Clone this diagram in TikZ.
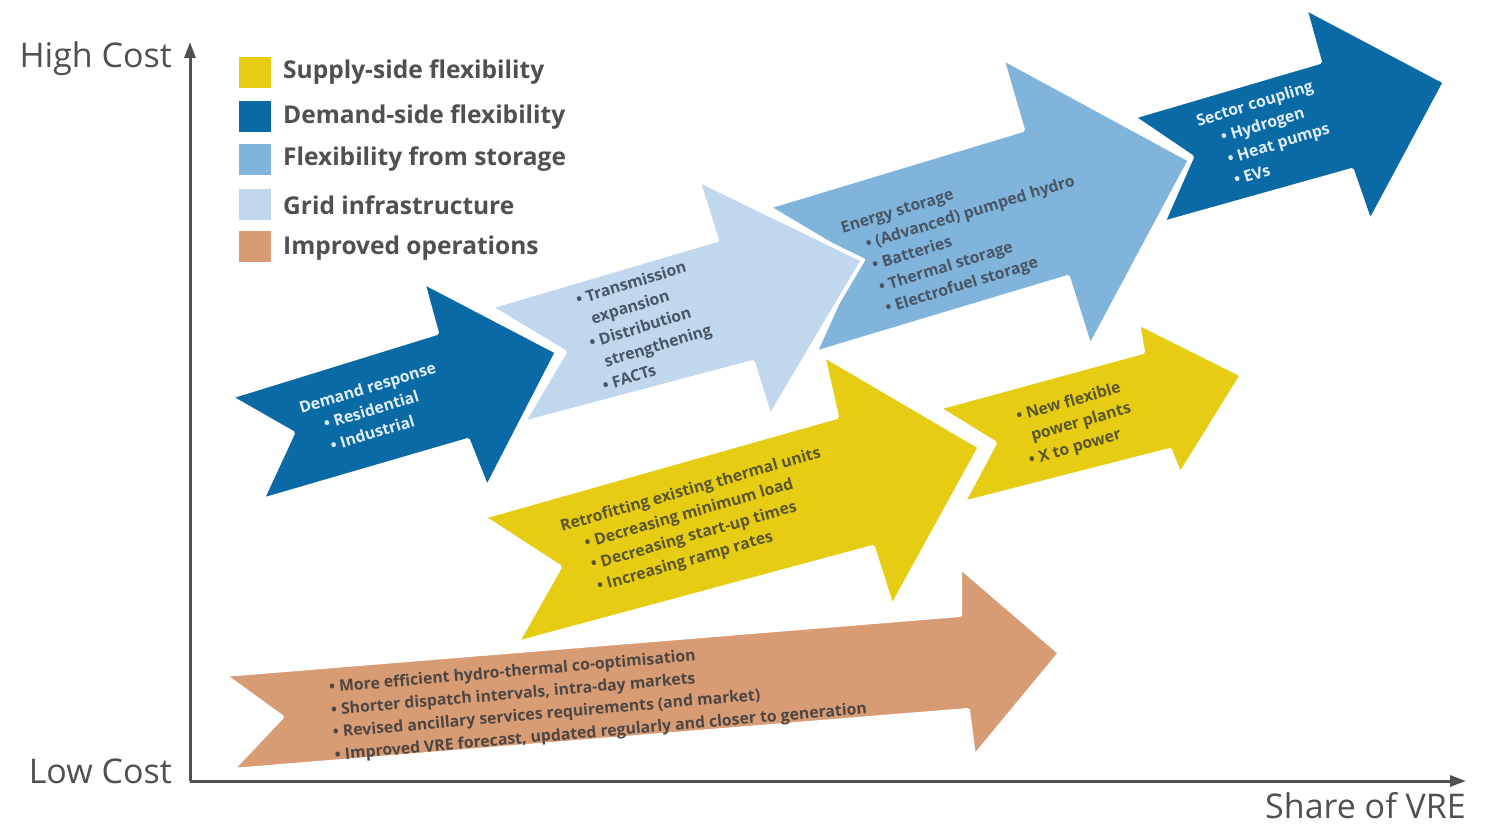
\documentclass[tikz,border=0pt]{standalone}
\usepackage{fontspec}
\setmainfont{Open Sans}
\usetikzlibrary{arrows.meta}
\definecolor{yel}{RGB}{230,205,20}
\definecolor{dblue}{RGB}{10,106,166}
\definecolor{mblue}{RGB}{128,180,218}
\definecolor{lblue}{RGB}{192,215,237}
\definecolor{orng}{RGB}{216,156,116}
\definecolor{greytxt}{RGB}{80,80,80}
\definecolor{bluetxt}{RGB}{72,86,102}
\definecolor{yeltxt}{RGB}{92,86,48}
\definecolor{lighttxt}{RGB}{225,238,250}
\definecolor{orngtxt}{RGB}{78,70,66}
\newcommand{\ind}{\hspace*{1.2em}}
\newcommand{\hang}{\hspace*{0.55em}}
\begin{document}
\begin{tikzpicture}[x=1pt,y=-1pt,
  flow/.style={draw=white, line width=4pt, line join=round},
  intext/.style={align=left, inner sep=0pt, font=\fontsize{15.8}{22.5}\selectfont\bfseries},
  legsq/.style={minimum width=32pt, minimum height=31pt, inner sep=0pt, anchor=north west},
  legtxt/.style={anchor=west, inner sep=0pt, text=greytxt, font=\fontsize{24.5}{28}\selectfont\bfseries},
  axlab/.style={anchor=east, inner sep=0pt, text=greytxt, font=\fontsize{34}{38}\selectfont},
  axis/.style={line width=3pt, draw=greytxt, -{Triangle[length=16pt,width=11pt]}}]
\useasboundingbox (0,0) rectangle (1489,826);
\fill[white] (0,0) rectangle (1489,826);

% axes
\coordinate (O) at (190,781);
\coordinate (ytop) at (190,42);
\coordinate (xend) at (1466,781);
\draw[axis] (O) -- (ytop);
\draw[axis] (O) -- (xend);
\node[axlab] (hc) at (172,59) {High Cost};
\node[axlab] (lc) at (172,771) {Low Cost};
\node[axlab] (sv) at (1466,806) {Share of VRE};

% legend
\node[legsq, fill=yel] (l1) at (239,57) {};
\node[legsq, fill=dblue] (l2) at (239,101) {};
\node[legsq, fill=mblue] (l3) at (239,144) {};
\node[legsq, fill=lblue] (l4) at (239,189) {};
\node[legsq, fill=orng] (l5) at (239,231) {};
\node[legtxt] (t1) at (283,72) {Supply-side flexibility};
\node[legtxt] (t2) at (283,117) {Demand-side flexibility};
\node[legtxt] (t3) at (283,159) {Flexibility from storage};
\node[legtxt] (t4) at (283,205) {Grid infrastructure};
\node[legtxt] (t5) at (283,248) {Improved operations};

% arrows (back to front)
\filldraw[flow, fill=dblue] (1133,117) -- (1192,157) -- (1163,223) -- (1352,170) -- (1370,222) -- (1445,82) -- (1305,8) -- (1320,62) -- cycle;
\filldraw[flow, fill=mblue] (768,207) -- (857,260) -- (815,353) -- (1068,277) -- (1090,347) -- (1190,160) -- (1002,58) -- (1023,130) -- cycle;
\filldraw[flow, fill=lblue] (490,307) -- (565,352) -- (523,423) -- (753,362) -- (770,417) -- (863,260) -- (698,180) -- (717,240) -- cycle;
\filldraw[flow, fill=dblue] (230,397) -- (293,433) -- (262,500) -- (468,440) -- (487,488) -- (557,352) -- (423,282) -- (437,333) -- cycle;
\filldraw[flow, fill=orng] (224,675) -- (282,717) -- (232,770) -- (968,710) -- (974,757) -- (1060,653) -- (960,567) -- (960,615) -- cycle;
\filldraw[flow, fill=yel] (938,408) -- (995,443) -- (963,503) -- (1170,450) -- (1180,475) -- (1242,375) -- (1138,323) -- (1143,352) -- cycle;
\filldraw[flow, fill=yel] (483,517) -- (560,567) -- (517,643) -- (873,547) -- (892,607) -- (980,447) -- (823,355) -- (837,417) -- cycle;

% arrow texts
\node[intext, rotate=17, text=lighttxt] (dr) at (374,409)
  {Demand response\\\ind • Residential\\\ind • Industrial};
\node[intext, rotate=17, text=bluetxt] (gi) at (647,325)
  {• Transmission\\\hang expansion\\• Distribution\\\hang strengthening\\• FACTs};
\node[intext, rotate=17, text=bluetxt] (es) at (968,238)
  {Energy storage\\\ind • (Advanced) pumped hydro\\\ind • Batteries\\\ind • Thermal storage\\\ind • Electrofuel storage};
\node[intext, rotate=17, text=lighttxt] (sc) at (1266,135)
  {Sector coupling\\\ind • Hydrogen\\\ind • Heat pumps\\\ind • EVs};
\node[intext, rotate=16, text=yeltxt] (rt) at (700,523)
  {Retrofitting existing thermal units\\\ind • Decreasing minimum load\\\ind • Decreasing start-up times\\\ind • Increasing ramp rates};
\node[intext, rotate=16, text=yeltxt] (nf) at (1077,424)
  {• New flexible\\\hang power plants\\• X to power};
\node[intext, rotate=5, text=orngtxt] (io) at (598,699)
  {• More efficient hydro-thermal co-optimisation\\• Shorter dispatch intervals, intra-day markets\\• Revised ancillary services requirements (and market)\\• Improved VRE forecast, updated regularly and closer to generation};
\end{tikzpicture}
\end{document}
